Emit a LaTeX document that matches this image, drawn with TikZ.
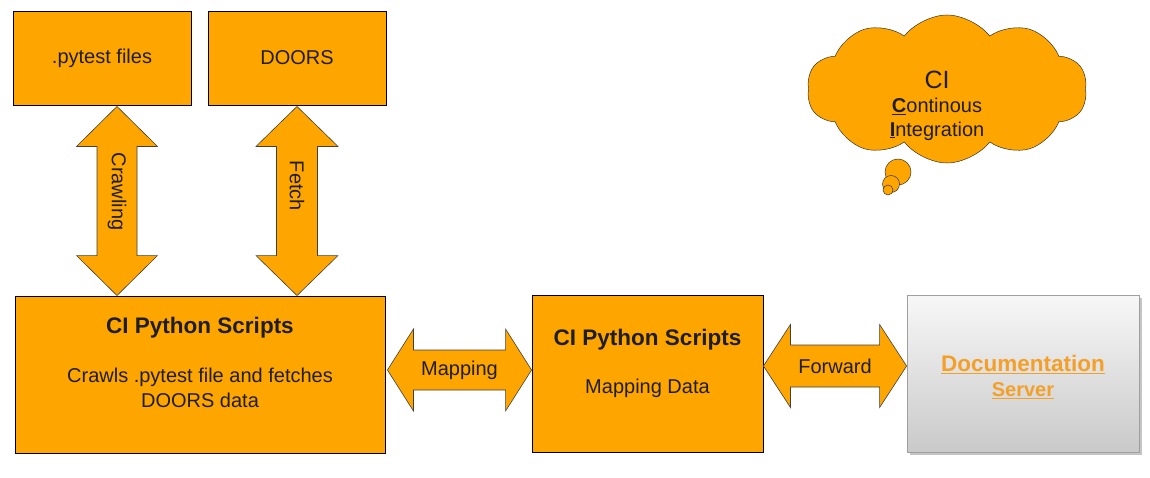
\documentclass[tikz,border=0pt]{standalone}
\usepackage{fontspec}
\setmainfont{Liberation Sans}
\usetikzlibrary{calc,shapes.symbols,shadows}
\definecolor{orfill}{RGB}{255,165,0}
\definecolor{linkor}{RGB}{244,160,40}
\definecolor{txt}{RGB}{30,30,30}
\tikzset{
  box/.style={draw=black, fill=orfill, line width=0.9pt, inner sep=0pt, anchor=center},
  serverbox/.style={draw=gray!75, line width=0.8pt, top color=gray!6, bottom color=gray!42,
     drop shadow={shadow xshift=2.5pt, shadow yshift=-2.5pt, opacity=0.45, fill=gray}},
  arr/.style={draw=black!75, fill=orfill, line width=0.6pt, line join=miter},
  lbl/.style={font=\fontsize{20}{24}\selectfont, text=txt, inner sep=0pt},
  ttl/.style={font=\bfseries\fontsize{22.5}{27}\selectfont, text=txt, inner sep=0pt},
  bubble/.style={circle, draw=black!80, fill=orfill, line width=0.5pt, inner sep=0pt},
}
\newcommand{\vdbl}[5]{%
  \path[arr] let \p1=(#1), \p2=(#2) in
  (\x1,\y1) -- (\x1+#4pt,\y1-#5pt) -- (\x1+#3pt,\y1-#5pt) -- (\x1+#3pt,\y2+#5pt)
  -- (\x1+#4pt,\y2+#5pt) -- (\x1,\y2) -- (\x1-#4pt,\y2+#5pt) -- (\x1-#3pt,\y2+#5pt)
  -- (\x1-#3pt,\y1-#5pt) -- (\x1-#4pt,\y1-#5pt) -- cycle;}
\newcommand{\hdbl}[5]{%
  \path[arr] let \p1=(#1), \p2=(#2) in
  (\x1,\y1) -- (\x1+#5pt,\y1+#4pt) -- (\x1+#5pt,\y1+#3pt) -- (\x2-#5pt,\y1+#3pt)
  -- (\x2-#5pt,\y1+#4pt) -- (\x2,\y1) -- (\x2-#5pt,\y1-#4pt) -- (\x2-#5pt,\y1-#3pt)
  -- (\x1+#5pt,\y1-#3pt) -- (\x1+#5pt,\y1-#4pt) -- cycle;}
\begin{document}
\begin{tikzpicture}[x=1pt,y=-1pt]
\useasboundingbox[fill=white] (0,0) rectangle (1150,477);

% top boxes
\node[box, lbl, minimum width=178, minimum height=94] (pytest) at (102,58) {.pytest files};
\node[box, lbl, minimum width=178, minimum height=94] (doors) at (297,58) {DOORS};

% bottom boxes
\node[box, minimum width=370, minimum height=157] (main1) at (200,374.5) {};
\node[box, minimum width=231, minimum height=157] (main2) at (647.5,373.5) {};
\node[serverbox, minimum width=232, minimum height=157, inner sep=0pt] (docs) at (1023,373.5) {};

\node[ttl] (m1t) at ($(main1.north)+(0,32)$) {CI Python Scripts};
\node[lbl] (m1a) at ($(main1.north)+(0,82)$) {Crawls .pytest file and fetches};
\node[lbl] (m1b) at ($(main1.north)+(0,105)$) {DOORS data};

\node[ttl] (m2t) at ($(main2.north)+(0,45)$) {CI Python Scripts};
\node[lbl] (m2a) at ($(main2.north)+(0,94)$) {Mapping Data};

\node[font=\bfseries\fontsize{22.5}{27}\selectfont, text=linkor, inner sep=0pt] (d1) at ($(docs.north)+(0,70)$) {\underline{Documentation}};
\node[font=\bfseries\fontsize{20}{24}\selectfont, text=linkor, inner sep=0pt] (d2) at ($(docs.north)+(0,96)$) {\underline{Server}};

% vertical double arrows
\coordinate (crT) at ($(pytest.south)+(15,1)$);
\coordinate (crB) at (crT |- main1.north);
\vdbl{crT}{crB}{20}{40.5}{40}
\node[lbl, rotate=-90] (crl) at ($(crT)!0.45!(crB)$) {Crawling};

\coordinate (feT) at ($(doors.south)+(0,1)$);
\coordinate (feB) at (feT |- main1.north);
\vdbl{feT}{feB}{20.5}{41}{40}
\node[lbl, rotate=-90] (fel) at ($(feT)!0.42!(feB)$) {Fetch};

% horizontal double arrows
\coordinate (maL) at ($(main1.east)+(2,-4.5)$);
\coordinate (maR) at (main2.west |- maL);
\hdbl{maL}{maR}{20}{41}{26}
\node[lbl] (mal) at ($(maL)!0.5!(maR)$) {Mapping};

\coordinate (foL) at ($(main2.east)+(0,-7.5)$);
\coordinate (foR) at (docs.west |- foL);
\hdbl{foL}{foR}{21}{41.5}{27}
\node[lbl] (fol) at ($(foL)!0.5!(foR)$) {Forward};

% cloud
\node[cloud, cloud puffs=10, cloud puff arc=105, draw=black!80, fill=orfill, line width=0.5pt,
      minimum width=280, minimum height=148, aspect=1.9] (cloud) at (947,89) {};
\node[bubble, minimum size=26] (b1) at (898,172) {};
\node[bubble, minimum size=17] (b2) at (891,184) {};
\node[bubble, minimum size=10] (b3) at (888,190) {};
\node[font=\fontsize{25}{30}\selectfont, text=txt, inner sep=0pt] (ci) at (937,80) {CI};
\node[lbl] (ci1) at (937,106) {\underline{\textbf{C}}ontinous};
\node[lbl] (ci2) at (937,131) {\underline{\textbf{I}}ntegration};
\end{tikzpicture}
\end{document}
